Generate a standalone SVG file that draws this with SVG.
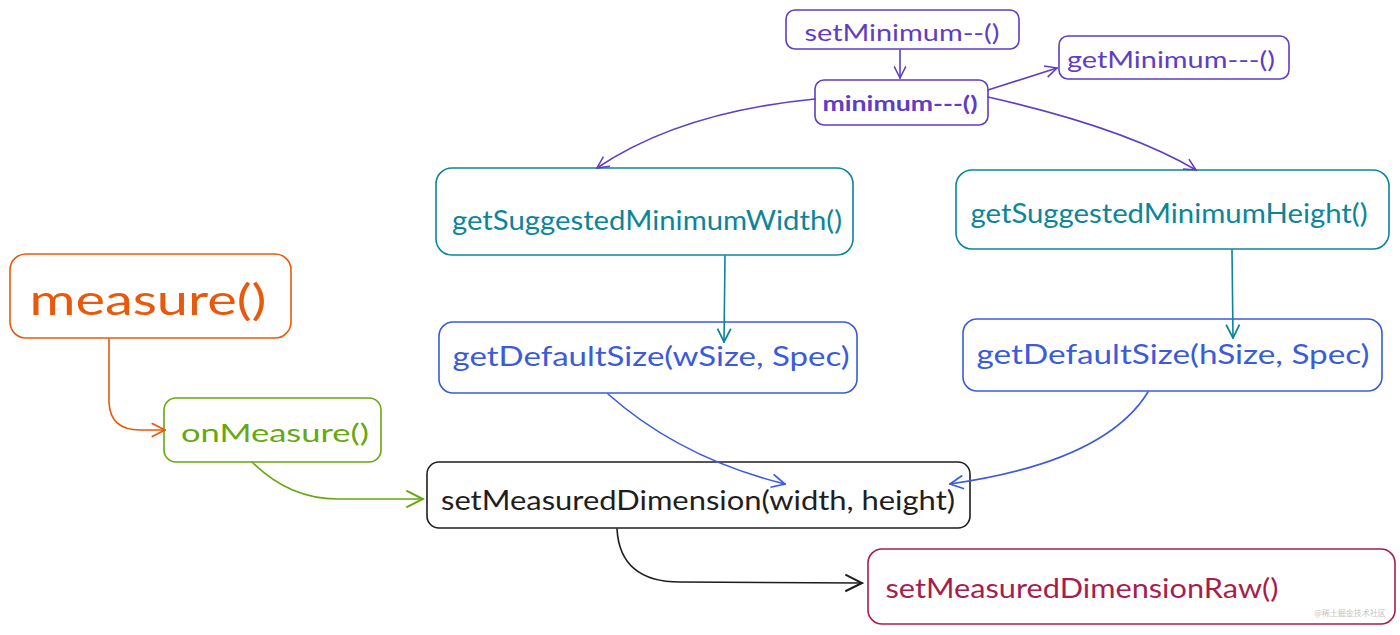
<svg xmlns="http://www.w3.org/2000/svg" width="1400" height="635" viewBox="0 0 1400 635">
<style>
  .box { fill: #ffffff; stroke-width: 1.6; }
  .lbl { font-family: "Lato", "Noto Sans", "Liberation Sans", sans-serif; text-anchor: middle; dominant-baseline: central; }
  .edge { fill: none; stroke-width: 1.6; stroke-linecap: round; }
  .purple { stroke: #5f3dc4; }
  .teal { stroke: #0c8599; }
  .blue { stroke: #3b5bdb; }
  .orange { stroke: #e8590c; }
  .green { stroke: #66a80f; }
  .black { stroke: #1e1e1e; }
  .crimson { stroke: #a61e4d; }
</style>
<defs>
  <marker id="ah-purple" viewBox="0 0 12 12" refX="11" refY="6" markerWidth="14" markerHeight="14" markerUnits="userSpaceOnUse" orient="auto"><path d="M1,1 L11,6 L1,11" fill="none" stroke="#5f3dc4" stroke-width="1.3"/></marker>
  <marker id="ah-teal" viewBox="0 0 12 12" refX="11" refY="6" markerWidth="16" markerHeight="16" markerUnits="userSpaceOnUse" orient="auto"><path d="M1,1 L11,6 L1,11" fill="none" stroke="#0c8599" stroke-width="1.3"/></marker>
  <marker id="ah-blue" viewBox="0 0 12 12" refX="11" refY="6" markerWidth="16" markerHeight="16" markerUnits="userSpaceOnUse" orient="auto"><path d="M1,1 L11,6 L1,11" fill="none" stroke="#3b5bdb" stroke-width="1.3"/></marker>
  <marker id="ah-orange" viewBox="0 0 12 12" refX="11" refY="6" markerWidth="16" markerHeight="16" markerUnits="userSpaceOnUse" orient="auto"><path d="M1,1 L11,6 L1,11" fill="none" stroke="#e8590c" stroke-width="1.3"/></marker>
  <marker id="ah-green" viewBox="0 0 12 12" refX="11" refY="6" markerWidth="20" markerHeight="20" markerUnits="userSpaceOnUse" orient="auto"><path d="M1,1 L11,6 L1,11" fill="none" stroke="#66a80f" stroke-width="1.2"/></marker>
  <marker id="ah-black" viewBox="0 0 12 12" refX="11" refY="6" markerWidth="20" markerHeight="20" markerUnits="userSpaceOnUse" orient="auto"><path d="M1,1 L11,6 L1,11" fill="none" stroke="#1e1e1e" stroke-width="1.2"/></marker>
</defs>
<rect width="1400" height="635" fill="#ffffff"/>

<g id="node-setMinimum">
  <rect class="box purple" x="786" y="10" width="233" height="39" rx="9"/>
  <text class="lbl" x="902" y="31" font-size="24" fill="#5f3dc4" textLength="195" lengthAdjust="spacingAndGlyphs">setMinimum--()</text>
</g>
<g id="node-getMinimum">
  <rect class="box purple" x="1059" y="36" width="230" height="43" rx="9"/>
  <text class="lbl" x="1171" y="58" font-size="24" fill="#5f3dc4" textLength="208" lengthAdjust="spacingAndGlyphs">getMinimum---()</text>
</g>
<g id="node-minimum">
  <rect class="box purple" x="815" y="80" width="173" height="45" rx="9"/>
  <text class="lbl" x="900" y="102" font-size="21" fill="#5f3dc4" font-weight="bold" textLength="155" lengthAdjust="spacingAndGlyphs">minimum---()</text>
</g>
<g id="node-getSuggestedMinimumWidth">
  <rect class="box teal" x="436" y="168" width="417" height="87" rx="16"/>
  <text class="lbl" x="647" y="219" font-size="27" fill="#0c8599" textLength="390" lengthAdjust="spacingAndGlyphs">getSuggestedMinimumWidth()</text>
</g>
<g id="node-getSuggestedMinimumHeight">
  <rect class="box teal" x="956" y="170" width="433" height="79" rx="16"/>
  <text class="lbl" x="1169" y="212" font-size="27" fill="#0c8599" textLength="397" lengthAdjust="spacingAndGlyphs">getSuggestedMinimumHeight()</text>
</g>
<g id="node-getDefaultSizeW">
  <rect class="box blue" x="439" y="322" width="418" height="71" rx="14"/>
  <text class="lbl" x="651" y="355" font-size="27" fill="#3b5bdb" textLength="397" lengthAdjust="spacingAndGlyphs">getDefaultSize(wSize, Spec)</text>
</g>
<g id="node-getDefaultSizeH">
  <rect class="box blue" x="963" y="319" width="419" height="72" rx="14"/>
  <text class="lbl" x="1173" y="353" font-size="27" fill="#3b5bdb" textLength="393" lengthAdjust="spacingAndGlyphs">getDefaultSize(hSize, Spec)</text>
</g>
<g id="node-measure">
  <rect class="box orange" x="10" y="254" width="281" height="84" rx="16"/>
  <text class="lbl" x="148" y="299" font-size="42" fill="#e8590c" textLength="237" lengthAdjust="spacingAndGlyphs">measure()</text>
</g>
<g id="node-onMeasure">
  <rect class="box green" x="164" y="398" width="217" height="64" rx="12"/>
  <text class="lbl" x="275" y="432" font-size="25" fill="#66a80f" textLength="188" lengthAdjust="spacingAndGlyphs">onMeasure()</text>
</g>
<g id="node-setMeasuredDimension">
  <rect class="box black" x="427" y="462" width="543" height="66" rx="12"/>
  <text class="lbl" x="698" y="499" font-size="27" fill="#1e1e1e" textLength="514" lengthAdjust="spacingAndGlyphs">setMeasuredDimension(width, height)</text>
</g>
<g id="node-setMeasuredDimensionRaw">
  <rect class="box crimson" x="868" y="549" width="527" height="75" rx="14"/>
  <text class="lbl" x="1082" y="587" font-size="27" fill="#a61e4d" textLength="393" lengthAdjust="spacingAndGlyphs">setMeasuredDimensionRaw()</text>
</g>

<g id="connectors">
  <path class="edge purple" d="M900,50 L900,78" marker-end="url(#ah-purple)"/>
  <path class="edge purple" d="M988,90 L1057,68" marker-end="url(#ah-purple)"/>
  <path class="edge purple" d="M815,99 Q680,112 597,168" marker-end="url(#ah-purple)"/>
  <path class="edge purple" d="M988,97 Q1125,128 1196,170" marker-end="url(#ah-purple)"/>
  <path class="edge teal" d="M725,256 L724,342" marker-end="url(#ah-teal)"/>
  <path class="edge teal" d="M1232,250 L1233,338" marker-end="url(#ah-teal)"/>
  <path class="edge blue" d="M608,394 Q680,458 785,484" marker-end="url(#ah-blue)"/>
  <path class="edge blue" d="M1148,392 Q1105,462 950,484" marker-end="url(#ah-blue)"/>
  <path class="edge orange" d="M109,339 L109,402 Q110,430 140,430 L165,430" marker-end="url(#ah-orange)"/>
  <path class="edge green" d="M252,462 Q290,500 340,499 L423,499" marker-end="url(#ah-green)"/>
  <path class="edge black" d="M617,529 Q620,582 680,582 L862,583" marker-end="url(#ah-black)"/>
</g>

<text x="1350" y="616" font-family="'Noto Sans CJK SC', sans-serif" font-size="8" fill="#c4c4c4" text-anchor="middle">@稀土掘金技术社区</text>
</svg>
